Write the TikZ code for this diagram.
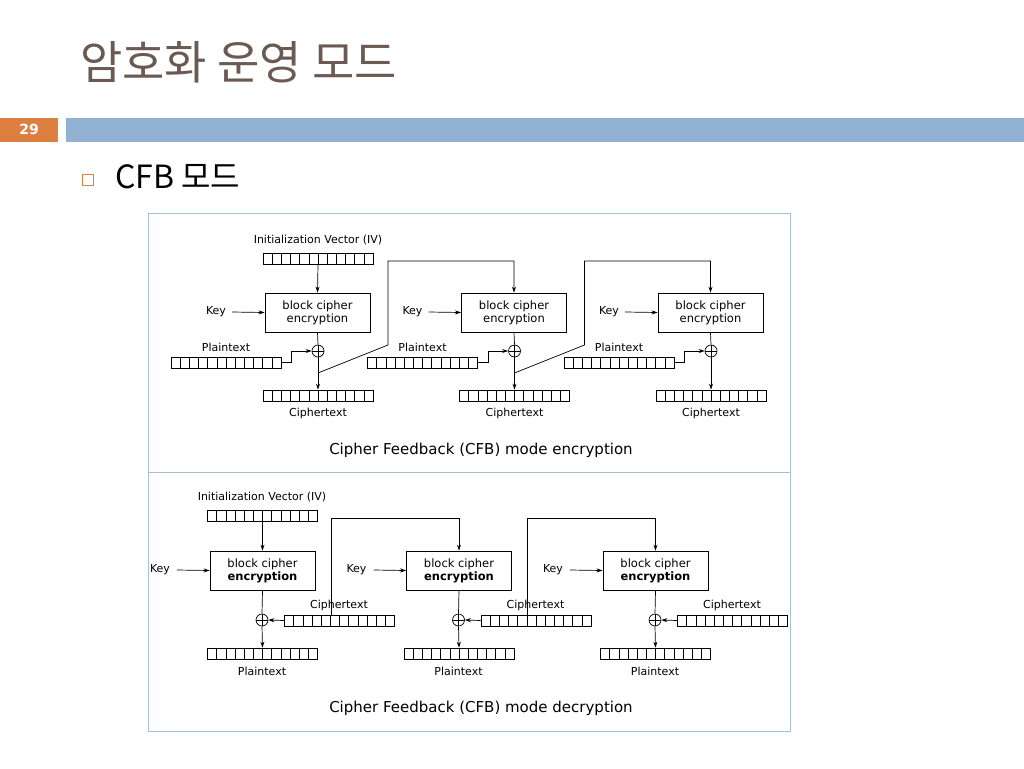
\documentclass[tikz,border=0pt]{standalone}
\usepackage{fontspec}
\setmainfont{DejaVu Sans}
\newfontfamily\kr{Noto Sans CJK KR}
\usetikzlibrary{arrows.meta}
\definecolor{titlec}{HTML}{6B5A52}
\definecolor{orangec}{HTML}{DD7F40}
\definecolor{barc}{HTML}{92B2D3}
\definecolor{framec}{HTML}{A6C0D8}
\begin{document}
\begin{tikzpicture}[x=1pt,y=-1pt,
  lbl/.style={font=\fontsize{11}{12}\selectfont,inner sep=0},
  box/.style={draw,line width=0.8pt,minimum width=105,minimum height=39,inner sep=0,align=center,font=\fontsize{11.5}{13}\selectfont},
  reg/.style={draw,line width=0.7pt,minimum width=110,minimum height=11,inner sep=0,
    path picture={\foreach \k in {1,...,11}{\draw[line width=0.6pt] ([xshift=\k*9.1667pt]path picture bounding box.south west) -- ([xshift=\k*9.1667pt]path picture bounding box.north west);}}},
  xr/.style={draw,circle,minimum size=12,inner sep=0,line width=0.7pt,
    path picture={\draw[line width=0.6pt] (path picture bounding box.north) -- (path picture bounding box.south) (path picture bounding box.west) -- (path picture bounding box.east);}},
  ar/.style={-{Stealth[length=6pt,width=4pt]},line width=0.7pt},
  ln/.style={line width=0.7pt}]
\useasboundingbox (0,0) rectangle (1024,768);
\node[anchor=west,text=titlec,font=\kr\fontsize{46}{50}\selectfont,inner sep=0] (title) at (80,62) {암호화 운영 모드};
\fill[orangec] (0,118) rectangle (58,142);
\node[text=white,font=\bfseries\fontsize{14}{16}\selectfont] (num) at (29,129) {29};
\fill[barc] (66,118) rectangle (1024,142);
\node[draw=orangec,line width=0.9pt,minimum size=11,inner sep=0] (bul) at (88,180) {};
\node[anchor=west,font=\kr\fontsize{32}{36}\selectfont,inner sep=0] (sub) at (115,177) {CFB 모드};
\draw[framec,line width=0.8pt] (148,213) rectangle (790,731);
\draw[framec,line width=0.8pt] (148,472) -- (790,472);
% encryption
\foreach \i in {0,1,2}{
  \pgfmathsetmacro{\dx}{\i*196.5}
  \node[box] (eb\i) at (317.5+\dx,312.5) {block cipher\\encryption};
  \node[lbl] (ek\i) at (216+\dx,312) {Key};
  \draw[ar] (232+\dx,312) -- (eb\i.west);
  \node[xr] (ex\i) at (318+\dx,351) {};
  \node[lbl] (ept\i) at (226+\dx,347) {Plaintext};
  \node[reg] (ep\i) at (226+\dx,362.5) {};
  \draw[ar] (ep\i.east) -- ++(10,0) |- (ex\i.west);
  \node[reg] (ec\i) at (318+\dx,395.5) {};
  \node[lbl] (ect\i) at (318+\dx,413) {Ciphertext};
  \draw[ln] (eb\i.south) -- (ex\i.north);
  \draw[ar] (ex\i.south) -- (ec\i.north);
  \coordinate (ef\i) at (318+\dx,373);
}
\node[lbl] (eiv) at (318,240) {Initialization Vector (IV)};
\node[reg] (eivr) at (318,258.5) {};
\draw[ar] (eivr.south) -- (eb0.north);
\draw[ar] (ef0) -- (388,345) -- (388,261) -| (eb1.north);
\draw[ar] (ef1) -- (584.5,345) -- (584.5,261) -| (eb2.north);
\node[font=\fontsize{15}{17}\selectfont] (ecap) at (481,450) {Cipher Feedback (CFB) mode encryption};
% decryption
\foreach \i in {0,1,2}{
  \pgfmathsetmacro{\dx}{\i*196.5}
  \node[box] (db\i) at (262.5+\dx,570.5) {block cipher\\\textbf{encryption}};
  \node[lbl] (dk\i) at (160+\dx,570) {Key};
  \draw[ar] (177+\dx,570) -- (db\i.west);
  \node[xr] (dx\i) at (262+\dx,620) {};
  \node[lbl] (dct\i) at (339+\dx,605) {Ciphertext};
  \node[reg] (dc\i) at (339.5+\dx,620.5) {};
  \draw[ar] (dc\i.west) -- (dx\i.east);
  \node[reg] (dp\i) at (262.5+\dx,653.5) {};
  \node[lbl] (dpt\i) at (262+\dx,671) {Plaintext};
  \draw[ln] (db\i.south) -- (dx\i.north);
  \draw[ar] (dx\i.south) -- (dp\i.north);
  \coordinate (df\i) at (331+\dx,615);
}
\node[lbl] (div) at (262,497) {Initialization Vector (IV)};
\node[reg] (divr) at (262.5,515.5) {};
\draw[ar] (divr.south) -- (db0.north);
\draw[ar] (df0) -- (331,518) -| (db1.north);
\draw[ar] (df1) -- (527.5,518) -| (db2.north);
\node[font=\fontsize{15}{17}\selectfont] (dcap) at (481,708) {Cipher Feedback (CFB) mode decryption};
\end{tikzpicture}
\end{document}
